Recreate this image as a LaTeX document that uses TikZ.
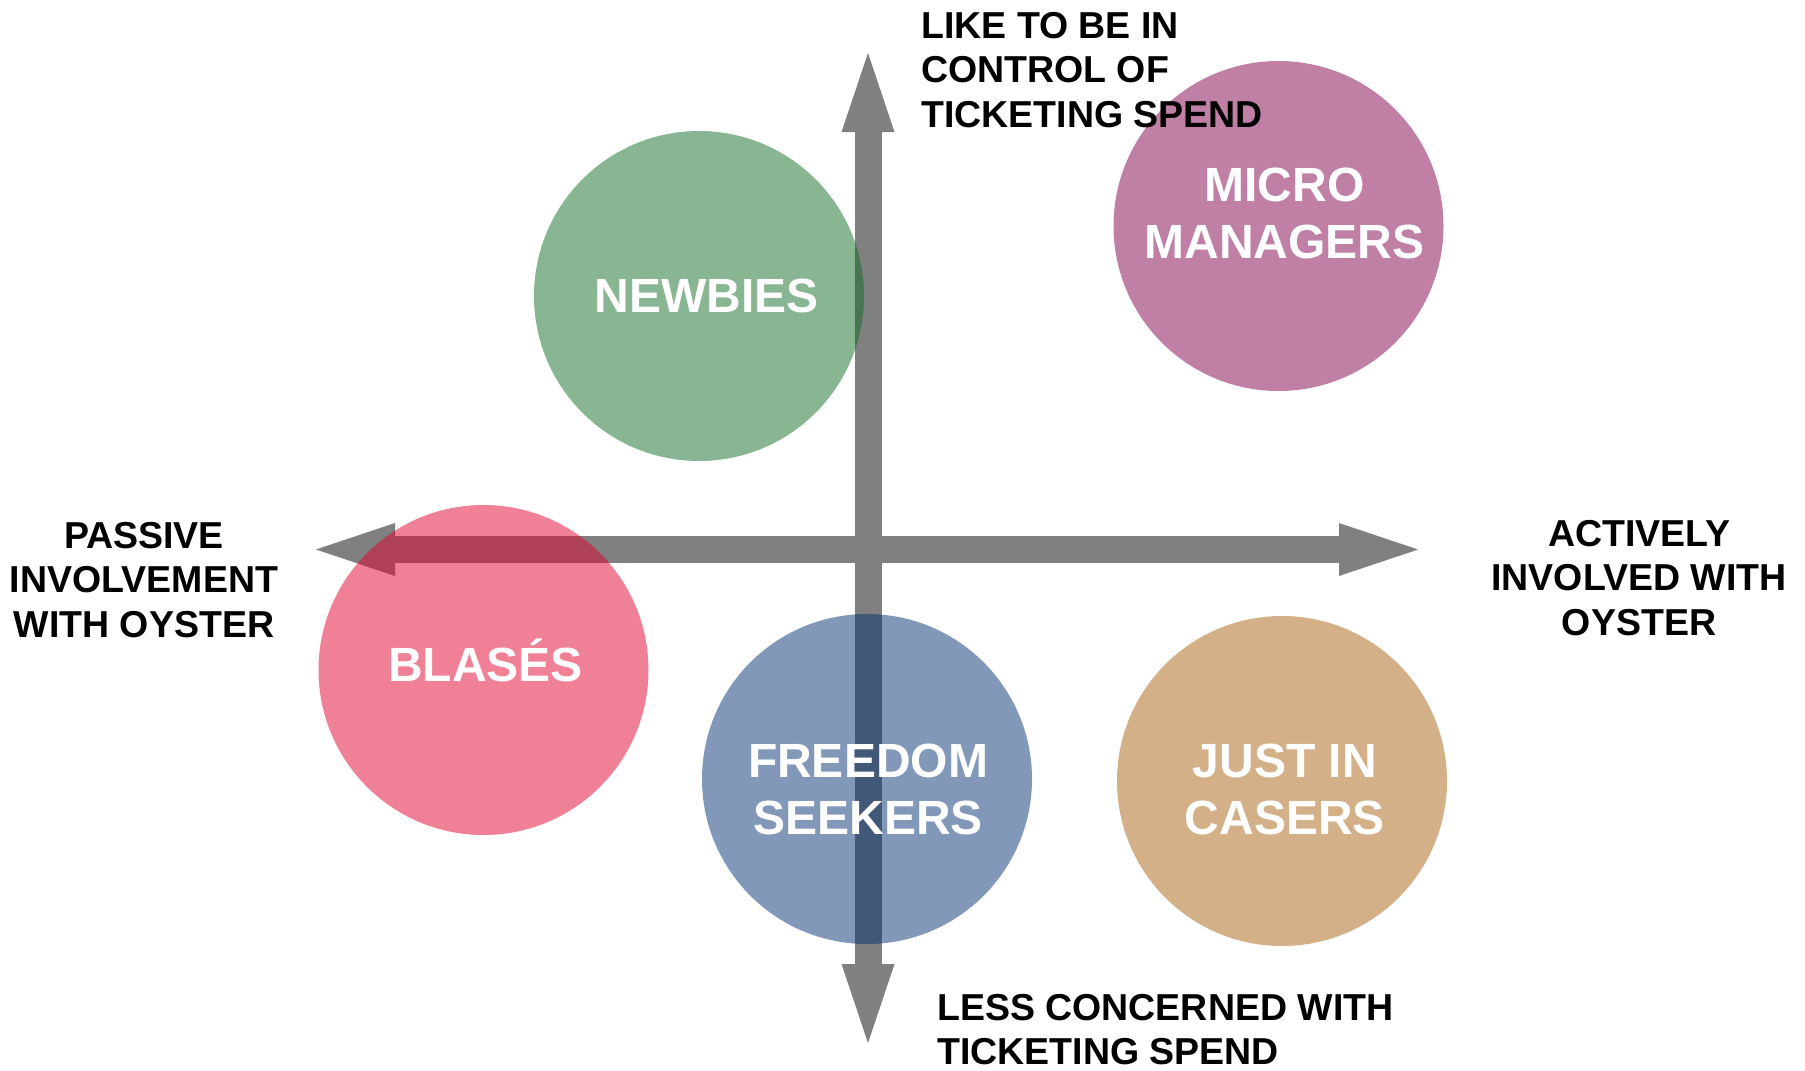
\documentclass[tikz,border=0pt]{standalone}
\usepackage{fontspec}
\setmainfont{Liberation Sans}
\usetikzlibrary{arrows.meta}

\definecolor{axisgray}{RGB}{128,128,128}
\definecolor{segGreen}{RGB}{17,107,37}
\definecolor{segPurple}{RGB}{129,1,77}
\definecolor{segPink}{RGB}{225,1,45}
\definecolor{segBlue}{RGB}{5,49,115}
\definecolor{segTan}{RGB}{169,97,17}

\begin{document}
\begin{tikzpicture}[
            x = 1pt, y = -1pt, % one unit per pixel, y pointing down
            axis/.style = {
                draw = axisgray,
                line width = 27pt,
                {Triangle[length=79pt, width=53pt, line width=0pt]}-{Triangle[length=79pt, width=53pt, line width=0pt]}
            },
            segment/.style = {
                circle,
                minimum size = 330pt,
                inner sep = 0pt,
                fill opacity = 0.5
            },
            seglabel/.style = {
                text = white,
                inner sep = 0pt,
                align = center,
                font = \fontsize{48}{57}\selectfont\bfseries
            },
            axislabel/.style = {
                inner sep = 0pt,
                font = \fontsize{37.5}{44.5}\selectfont\bfseries
            }
        ]

        \useasboundingbox (0,0) rectangle (1805,1071);

        % axes
        \coordinate (top) at (868,53);
        \coordinate (bottom) at (868,1043);
        \coordinate (left) at (316,549.5);
        \coordinate (right) at (1418,549.5);

        \draw[axis] (top) -- (bottom);
        \draw[axis] (left) -- (right);

        % segments
        \node[segment, fill=segGreen] (newbies) at (699,296) {};
        \node[segment, fill=segPurple] (micro) at (1278.5,226) {};
        \node[segment, fill=segPink] (blases) at (483.5,670) {};
        \node[segment, fill=segBlue] (freedom) at (867,779) {};
        \node[segment, fill=segTan] (justin) at (1282,781) {};

        \node[seglabel] (newbiestext) at ([shift={(8,0)}]newbies.center) {NEWBIES};
        \node[seglabel] (microtext) at ([shift={(6,-13)}]micro.center) {MICRO\\MANAGERS};
        \node[seglabel] (blasestext) at ([shift={(2,-10)}]blases.center) {BLASÉS};
        \node[seglabel] (freedomtext) at ([shift={(1,10)}]freedom.center) {FREEDOM\\SEEKERS};
        \node[seglabel] (justintext) at ([shift={(3,8)}]justin.center) {JUST IN\\CASERS};

        % axis labels
        \node[axislabel, anchor=north west, align=left] (control) at (921,12) {LIKE TO BE IN\\CONTROL OF\\TICKETING SPEND};
        \node[axislabel, anchor=north west, align=left] (concern) at (937,994) {LESS CONCERNED WITH\\TICKETING SPEND};
        \node[axislabel, anchor=north, align=center] (passive) at (144,522) {PASSIVE\\INVOLVEMENT\\WITH OYSTER};
        \node[axislabel, anchor=north, align=center] (active) at (1639,520) {ACTIVELY\\INVOLVED WITH\\OYSTER};

  \end{tikzpicture}
\end{document}
